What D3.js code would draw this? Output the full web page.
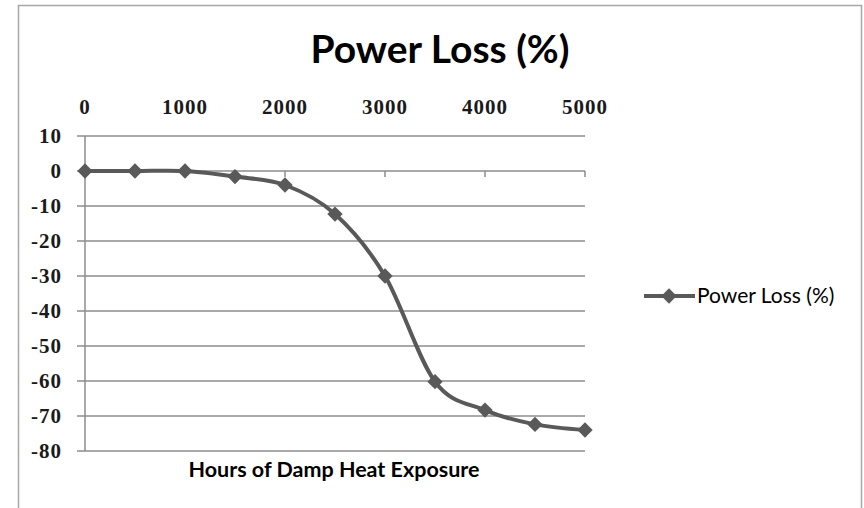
<!DOCTYPE html>
<html>
<head>
<meta charset="utf-8">
<script src="https://cdn.jsdelivr.net/npm/d3@7"></script>
<style>
  body { margin: 0; background: #fff; }
</style>
</head>
<body>
<svg id="chart" width="864" height="508"></svg>
<script>
const hours = [0, 500, 1000, 1500, 2000, 2500, 3000, 3500, 4000, 4500, 5000];
const powerLoss = [0, 0, 0, -1.6, -4, -12.3, -30, -60.2, -68.3, -72.4, -74];
const xTicks = [0, 1000, 2000, 3000, 4000, 5000];
const yTicks = [10, 0, -10, -20, -30, -40, -50, -60, -70, -80];
const seriesName = "Power Loss (%)";

const svg = d3.select("#chart");
const lineColor = "#595959";
const gridColor = "#8c8c8c";

// chart frame (bottom edge runs off the picture)
svg.append("rect")
  .attr("x", 18.5).attr("y", 5.5)
  .attr("width", 843).attr("height", 520)
  .attr("fill", "#fff")
  .attr("stroke", "#a6a6a6")
  .attr("stroke-width", 1.5);

const x = d3.scaleLinear().domain([0, 5000]).range([85, 585]);
const y = d3.scaleLinear().domain([10, -80]).range([136, 451]);

// title
svg.append("text")
  .text(seriesName)
  .attr("x", 440)
  .attr("y", 63)
  .attr("font-family", "Lato, sans-serif")
  .attr("font-weight", "bold")
  .attr("font-size", 39)
  .attr("text-anchor", "middle")
  .attr("fill", "#000");

// horizontal gridlines with outward ticks
svg.append("g")
  .selectAll("line")
  .data(yTicks)
  .join("line")
  .attr("x1", 77)
  .attr("x2", 585)
  .attr("y1", (d) => y(d))
  .attr("y2", (d) => y(d))
  .attr("stroke", gridColor)
  .attr("stroke-width", 1.5);

// vertical axis
svg.append("line")
  .attr("x1", 85).attr("x2", 85)
  .attr("y1", y(10)).attr("y2", y(-80))
  .attr("stroke", gridColor)
  .attr("stroke-width", 1.5);

// y labels
svg.append("g")
  .selectAll("text")
  .data(yTicks)
  .join("text")
  .text((d) => d)
  .attr("x", 62)
  .attr("y", (d) => y(d))
  .attr("dy", "0.35em")
  .attr("font-family", "Liberation Serif, serif")
  .attr("font-weight", "bold")
  .attr("font-size", 21)
  .attr("letter-spacing", 1)
  .attr("text-anchor", "end")
  .attr("fill", "#1a1a1a");

// x axis crosses at 0, ticks point down
svg.append("g")
  .selectAll("line")
  .data(xTicks)
  .join("line")
  .attr("x1", (d) => x(d))
  .attr("x2", (d) => x(d))
  .attr("y1", y(0))
  .attr("y2", y(0) + 6)
  .attr("stroke", gridColor)
  .attr("stroke-width", 1.5);

// x labels along the top
svg.append("g")
  .selectAll("text")
  .data(xTicks)
  .join("text")
  .text((d) => d)
  .attr("x", (d) => x(d))
  .attr("y", 107)
  .attr("dy", "0.35em")
  .attr("font-family", "Liberation Serif, serif")
  .attr("font-weight", "bold")
  .attr("font-size", 21)
  .attr("letter-spacing", 1)
  .attr("text-anchor", "middle")
  .attr("fill", "#1a1a1a");

// axis title
svg.append("text")
  .text("Hours of Damp Heat Exposure")
  .attr("x", 334)
  .attr("y", 477)
  .attr("font-family", "Lato, sans-serif")
  .attr("font-weight", "bold")
  .attr("font-size", 21.5)
  .attr("text-anchor", "middle")
  .attr("fill", "#000");

const points = hours.map((h, i) => [h, powerLoss[i]]);

const line = d3.line()
  .x((d) => x(d[0]))
  .y((d) => y(d[1]))
  .curve(d3.curveCatmullRom.alpha(0));

svg.append("path")
  .datum(points)
  .attr("d", line)
  .attr("fill", "none")
  .attr("stroke", lineColor)
  .attr("stroke-width", 4)
  .attr("stroke-linejoin", "round");

const diamond = d3.symbol().type(d3.symbolDiamond2).size(150);

svg.append("g")
  .selectAll("path")
  .data(points)
  .join("path")
  .attr("d", diamond)
  .attr("transform", (d) => `translate(${x(d[0])},${y(d[1])})`)
  .attr("fill", lineColor);

// legend
const legend = svg.append("g").attr("transform", "translate(644,296)");
legend.append("line")
  .attr("x1", 0).attr("x2", 51)
  .attr("stroke", lineColor)
  .attr("stroke-width", 4);
legend.append("path")
  .attr("d", diamond)
  .attr("transform", "translate(25,0)")
  .attr("fill", lineColor);
legend.append("text")
  .text(seriesName)
  .attr("x", 53)
  .attr("dy", "0.35em")
  .attr("font-family", "Lato, sans-serif")
  .attr("font-size", 21)
  .attr("fill", "#000");
</script>
</body>
</html>
